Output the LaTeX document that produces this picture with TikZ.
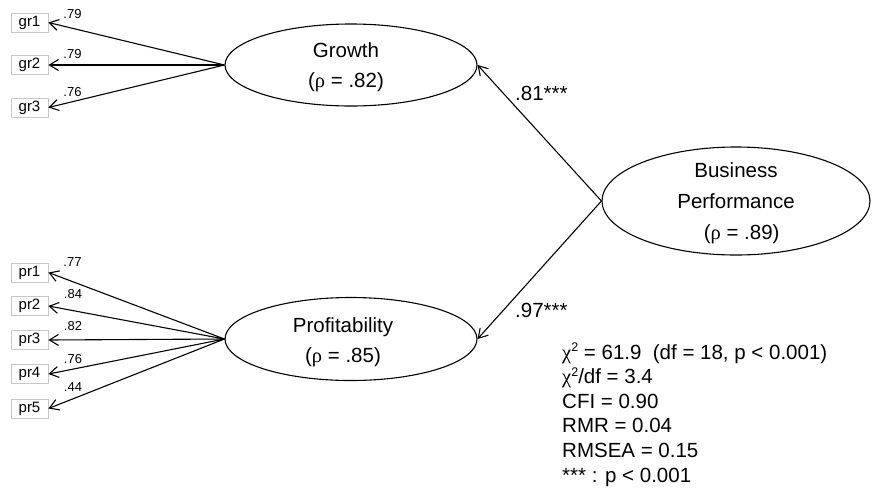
\documentclass[tikz,border=0pt]{standalone}
\usepackage{fontspec}
\setmainfont{Liberation Sans}
\newfontfamily\greekfont{Liberation Serif}
\usetikzlibrary{arrows.meta,shapes.geometric}
\newcommand{\grk}[1]{{\greekfont #1}}
\newcommand{\sqr}{\raisebox{0.36em}{\fontsize{12.5}{12.5}\selectfont 2}}

\begin{document}
\begin{tikzpicture}[x=1pt,y=-1pt,
  latent/.style={draw, ellipse, line width=1.1pt, inner sep=0pt},
  lattext/.style={align=center, font=\fontsize{20.5}{30}\selectfont, inner sep=0pt},
  indic/.style={draw=black!22, line width=0.9pt, minimum width=37pt,
    minimum height=19pt, inner sep=0pt, font=\fontsize{15}{15}\selectfont},
  load/.style={font=\fontsize{13}{13}\selectfont, inner sep=0pt},
  pathline/.style={line width=1.1pt, -{Straight Barb[length=9pt,width=11pt]}},
  coef/.style={font=\fontsize{20.5}{24}\selectfont, anchor=west, inner sep=0pt},
  fitline/.style={font=\fontsize{20.5}{24}\selectfont, anchor=base west, inner sep=0pt},
]
\useasboundingbox (0,0) rectangle (873,488);

% latent constructs
\node[latent, minimum width=252pt, minimum height=82pt] (growth) at (351,65) {};
\node[lattext] (growthtxt) at (346,67) {Growth\\(\grk{ρ} = .82)};
\node[latent, minimum width=252pt, minimum height=83pt] (prof) at (351,339) {};
\node[lattext] (proftxt) at (343,342) {Profitability\\(\grk{ρ} = .85)};
\node[latent, minimum width=268pt, minimum height=108pt] (bp) at (736,201) {};
\node[lattext, font=\fontsize{20.5}{31}\selectfont] (bptxt) at (736,203)
  {Business\\Performance\\\ \ (\grk{ρ} = .89)};

% indicators of Growth
\node[indic] (gr1) at (29.5,22.5) {gr1};
\node[indic] (gr2) at (29.5,65) {gr2};
\node[indic] (gr3) at (29.5,107.5) {gr3};

% indicators of Profitability
\node[indic] (pr1) at (29.5,272.5) {pr1};
\node[indic] (pr2) at (29.5,306) {pr2};
\node[indic] (pr3) at (29.5,340) {pr3};
\node[indic] (pr4) at (29.5,374) {pr4};
\node[indic] (pr5) at (29.5,408.5) {pr5};

% loadings
\draw[pathline] (growth.west) -- (gr1.east);
\draw[pathline] (growth.west) -- (gr2.east);
\draw[pathline] (growth.west) -- (gr3.east);
\draw[pathline] (prof.west) -- (pr1.east);
\draw[pathline] (prof.west) -- (pr2.east);
\draw[pathline] (prof.west) -- (pr3.east);
\draw[pathline] (prof.west) -- (pr4.east);
\draw[pathline] (prof.west) -- (pr5.east);

\node[load] (lgr1) at (72.5,14) {.79};
\node[load] (lgr2) at (72.5,54) {.79};
\node[load] (lgr3) at (72.5,92) {.76};
\node[load] (lpr1) at (72.5,262.5) {.77};
\node[load] (lpr2) at (73,294) {.84};
\node[load] (lpr3) at (73,326) {.82};
\node[load] (lpr4) at (73,359) {.76};
\node[load] (lpr5) at (73,387.5) {.44};

% second-order paths
\draw[pathline] (bp.west) -- (growth.east);
\draw[pathline] (bp.west) -- (prof.east);
\node[coef] (cg) at (515,93) {.81***};
\node[coef] (cp) at (515,310) {.97***};

% fit statistics
\node[fitline] (fit1) at (562,359) {\grk{χ}\sqr{} = 61.9\ \ (df = 18, p < 0.001)};
\node[fitline] (fit2) at (562,383.6) {\grk{χ}\sqr/df = 3.4};
\node[fitline] (fit3) at (562,408.2) {CFI = 0.90};
\node[fitline] (fit4) at (562,432.8) {RMR = 0.04};
\node[fitline] (fit5) at (562,457.4) {RMSEA = 0.15};
\node[fitline] (fit6) at (562,482) {*** : p < 0.001};
\end{tikzpicture}
\end{document}
